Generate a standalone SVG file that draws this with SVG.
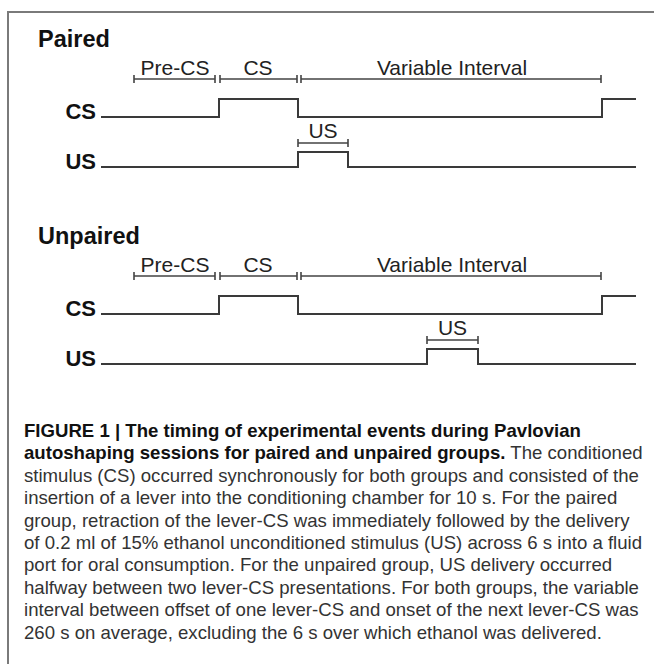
<svg xmlns="http://www.w3.org/2000/svg" width="654" height="664" viewBox="0 0 654 664">
<style>
.bg{fill:#ffffff}
.frame{fill:none;stroke:#7a7a7a;stroke-width:2}
.title{font-family:"Liberation Sans",Arial,sans-serif;font-weight:bold;font-size:23.5px;fill:#111}
.lab{font-family:"Liberation Sans",Arial,sans-serif;font-size:21px;fill:#222;text-anchor:middle}
.sig{font-family:"Liberation Sans",Arial,sans-serif;font-weight:bold;font-size:22px;fill:#111;text-anchor:end}
.wave{fill:none;stroke:#3a3a3a;stroke-width:2}
.brk{fill:none;stroke:#444;stroke-width:1.6}
.cap{font-family:"Liberation Sans",Arial,sans-serif;font-size:18.6px;fill:#333}
.capb{font-weight:bold;fill:#111}
</style>
<rect class="bg" x="0" y="0" width="654" height="664"/>
<path id="frame" class="frame" d="M8,664 V12 H654"/>

<g id="paired">
  <text class="title" x="38" y="47">Paired</text>
  <g id="paired-brackets">
    <path class="brk" d="M134,79 H215 M134,75 V83 M215,75 V83 M220,79 H297 M220,75 V83 M297,75 V83 M301,79 H601 M301,75 V83 M601,75 V83"/>
    <text class="lab" x="175" y="75">Pre-CS</text>
    <text class="lab" x="258" y="75">CS</text>
    <text class="lab" x="452" y="75">Variable Interval</text>
    <path class="brk" d="M298,143 H348 M298,139 V147 M348,139 V147"/>
    <text class="lab" x="323" y="138">US</text>
  </g>
  <g id="paired-cs">
    <text class="sig" x="96" y="119">CS</text>
    <path class="wave" d="M101,117 H219 V99 H298 V117 H602 V99 H636"/>
  </g>
  <g id="paired-us">
    <text class="sig" x="96" y="169">US</text>
    <path class="wave" d="M101,167 H298 V152 H348 V167 H636"/>
  </g>
</g>

<g id="unpaired" transform="translate(0,197)">
  <text class="title" x="38" y="47">Unpaired</text>
  <g id="unpaired-brackets">
    <path class="brk" d="M134,79 H215 M134,75 V83 M215,75 V83 M220,79 H297 M220,75 V83 M297,75 V83 M301,79 H601 M301,75 V83 M601,75 V83"/>
    <text class="lab" x="175" y="75">Pre-CS</text>
    <text class="lab" x="258" y="75">CS</text>
    <text class="lab" x="452" y="75">Variable Interval</text>
    <path class="brk" d="M427,143 H478 M427,139 V147 M478,139 V147"/>
    <text class="lab" x="452.5" y="138">US</text>
  </g>
  <g id="unpaired-cs">
    <text class="sig" x="96" y="119">CS</text>
    <path class="wave" d="M101,117 H219 V99 H298 V117 H602 V99 H636"/>
  </g>
  <g id="unpaired-us">
    <text class="sig" x="96" y="169">US</text>
    <path class="wave" d="M101,167 H427 V152 H478 V167 H636"/>
  </g>
</g>

<g id="caption" class="cap">
  <text x="24" y="437"><tspan class="capb">FIGURE 1 | The timing of experimental events during Pavlovian</tspan></text>
  <text x="24" y="459.4"><tspan class="capb">autoshaping sessions for paired and unpaired groups.</tspan> The conditioned</text>
  <text x="24" y="481.8">stimulus (CS) occurred synchronously for both groups and consisted of the</text>
  <text x="24" y="504.2">insertion of a lever into the conditioning chamber for 10 s. For the paired</text>
  <text x="24" y="526.6">group, retraction of the lever-CS was immediately followed by the delivery</text>
  <text x="24" y="549">of 0.2 ml of 15% ethanol unconditioned stimulus (US) across 6 s into a fluid</text>
  <text x="24" y="571.4">port for oral consumption. For the unpaired group, US delivery occurred</text>
  <text x="24" y="593.8">halfway between two lever-CS presentations. For both groups, the variable</text>
  <text x="24" y="616.2">interval between offset of one lever-CS and onset of the next lever-CS was</text>
  <text x="24" y="638.6">260 s on average, excluding the 6 s over which ethanol was delivered.</text>
</g>
</svg>
